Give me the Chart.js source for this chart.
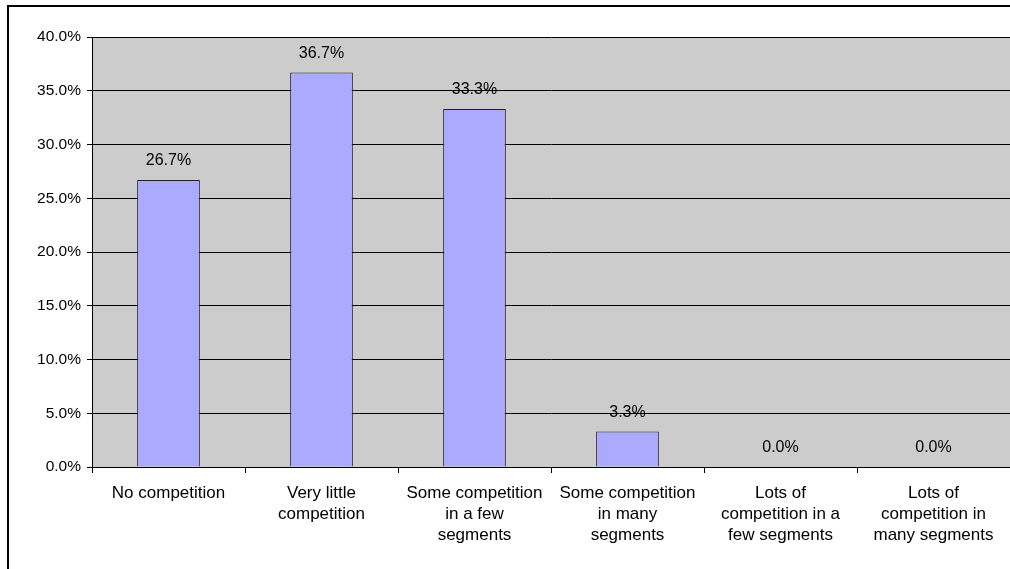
<!DOCTYPE html>
<html>
<head>
<meta charset="utf-8">
<script src="https://cdn.jsdelivr.net/npm/chart.js@4"></script>
<style>
  html, body { margin: 0; padding: 0; background: #fff; overflow: hidden; }
  #wrap { width: 1010px; height: 569px; position: relative; }
</style>
</head>
<body>
<div id="wrap"><canvas id="comp_chart"></canvas></div>
<script>
const categories = [
  'No competition',
  ['Very little', 'competition'],
  ['Some competition', 'in a few', 'segments'],
  ['Some competition', 'in many', 'segments'],
  ['Lots of', 'competition in a', 'few segments'],
  ['Lots of', 'competition in', 'many segments']
];
const shares = [26.7, 36.7, 33.3, 3.3, 0.0, 0.0];
const yTicks = [0, 5, 10, 15, 20, 25, 30, 35, 40];

const FONT = "'Liberation Sans', Arial, sans-serif";

// outer frame + grey plot background
const frame = {
  id: 'frame',
  beforeDraw(chart) {
    const c = chart.ctx, a = chart.chartArea;
    c.save();
    c.fillStyle = '#cccccc';
    c.fillRect(a.left, a.top, a.right - a.left, a.bottom - a.top);
    c.strokeStyle = '#000';
    c.lineWidth = 2;
    c.strokeRect(8, 6, chart.width + 20, chart.height + 20);
    c.restore();
  }
};

// value labels over the bars
const valueLabels = {
  id: 'valueLabels',
  afterDatasetsDraw(chart) {
    const c = chart.ctx;
    const meta = chart.getDatasetMeta(0);
    c.save();
    c.font = '16px ' + FONT;
    c.fillStyle = '#000';
    c.textAlign = 'center';
    c.textBaseline = 'bottom';
    meta.data.forEach((bar, i) => {
      c.fillText(shares[i].toFixed(1) + '%', bar.x, bar.y - 11);
    });
    c.restore();
  }
};

new Chart(document.getElementById('comp_chart'), {
  type: 'bar',
  data: {
    labels: categories,
    datasets: [{
      data: shares,
      backgroundColor: '#aaaaff',
      borderColor: '#222',
      borderWidth: 1,
      categoryPercentage: 1,
      barPercentage: 0.41
    }]
  },
  options: {
    responsive: true,
    maintainAspectRatio: false,
    animation: false,
    layout: { padding: { top: 37, right: 0, left: 0, bottom: 0 } },
    plugins: {
      legend: { display: false },
      tooltip: { enabled: false }
    },
    scales: {
      x: {
        offset: true,
        grid: {
          offset: true,
          drawOnChartArea: false,
          color: '#000',
          tickLength: 6
        },
        border: { color: '#000', width: 1 },
        ticks: {
          color: '#000',
          font: { family: FONT, size: 17, lineHeight: 1.24 },
          maxRotation: 0,
          autoSkip: false,
          padding: 10
        },
        afterFit(scale) { scale.height = 102; }
      },
      y: {
        min: 0,
        max: 40,
        afterBuildTicks(scale) { scale.ticks = yTicks.map(v => ({ value: v })); },
        grid: { color: '#000', tickLength: 5 },
        border: { color: '#000', width: 1 },
        ticks: {
          color: '#000',
          font: { family: FONT, size: 15.5 },
          padding: 6,
          callback: v => v.toFixed(1) + '%'
        },
        afterFit(scale) { scale.width = 92; }
      }
    }
  },
  plugins: [frame, valueLabels]
});
</script>
</body>
</html>
